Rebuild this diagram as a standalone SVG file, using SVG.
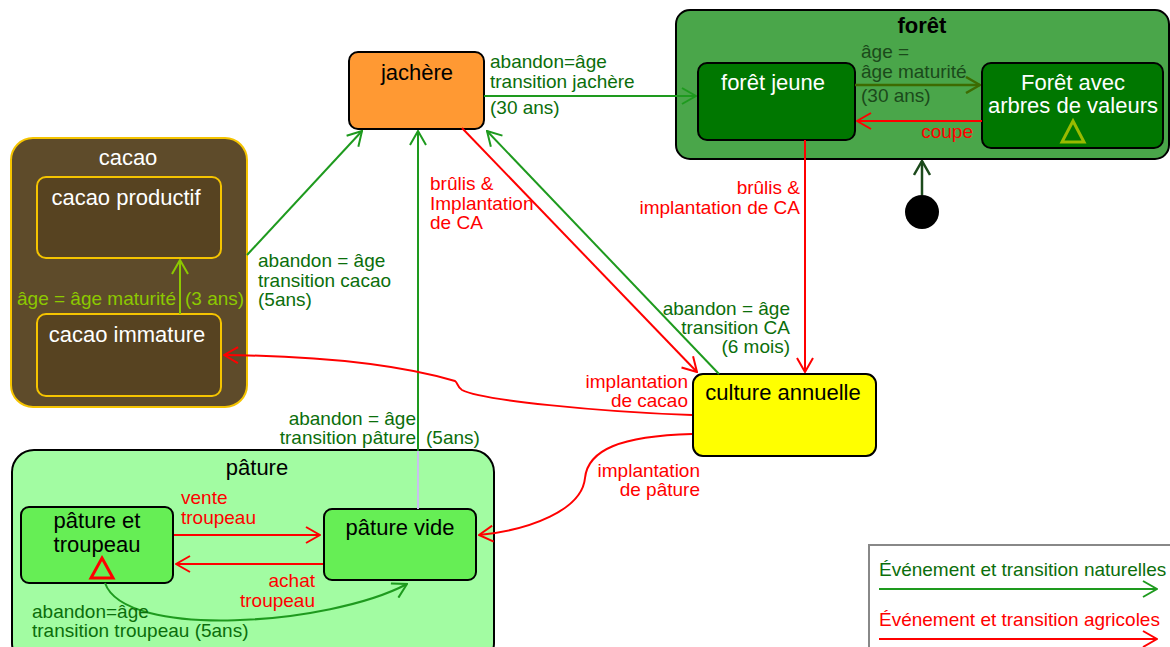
<svg xmlns="http://www.w3.org/2000/svg" width="1170" height="647" viewBox="0 0 1170 647">
<style>
text{font-family:"Liberation Sans",Arial,sans-serif}
.n{font-size:22px;text-anchor:middle}
.l{font-size:19px}
.w{fill:#ffffff}
.k{fill:#000000}
.lg{fill:#0b6e0b}
.lr{fill:#ff0000}
.lf{fill:#1b4a1b}
.ly{fill:#8cc800}
.e{text-anchor:end}
.cg{stroke:#1e9a1e;stroke-width:2;fill:none}
.cr{stroke:#ff0000;stroke-width:2;fill:none}
.co{stroke:#3d6b00;stroke-width:2.5;fill:none}
.cd{stroke:#1c4a1c;stroke-width:2.5;fill:none}
.cy{stroke:#8cc800;stroke-width:2;fill:none}
</style>
<defs>
<marker id="ag" viewBox="0 0 16 18" refX="15" refY="9" markerWidth="16" markerHeight="18" markerUnits="userSpaceOnUse" orient="auto"><path d="M1,1 L15,9 L1,17" fill="none" stroke="#1e9a1e" stroke-width="2"/></marker>
<marker id="ar" viewBox="0 0 16 18" refX="15" refY="9" markerWidth="16" markerHeight="18" markerUnits="userSpaceOnUse" orient="auto"><path d="M1,1 L15,9 L1,17" fill="none" stroke="#ff0000" stroke-width="2"/></marker>
<marker id="ao" viewBox="0 0 16 18" refX="15" refY="9" markerWidth="16" markerHeight="18" markerUnits="userSpaceOnUse" orient="auto"><path d="M1,1 L15,9 L1,17" fill="none" stroke="#3d6b00" stroke-width="2.5"/></marker>
<marker id="ad" viewBox="0 0 16 18" refX="15" refY="9" markerWidth="16" markerHeight="18" markerUnits="userSpaceOnUse" orient="auto"><path d="M1,1 L15,9 L1,17" fill="none" stroke="#1c4a1c" stroke-width="2.5"/></marker>
<marker id="ay" viewBox="0 0 16 18" refX="15" refY="9" markerWidth="16" markerHeight="18" markerUnits="userSpaceOnUse" orient="auto"><path d="M1,1 L15,9 L1,17" fill="none" stroke="#8cc800" stroke-width="2"/></marker>
</defs>

<g id="cacao">
<rect x="11" y="138" width="236" height="269" rx="22" fill="#5e4b2a" stroke="#f5c400" stroke-width="2"/>
<text class="n w" x="128" y="165">cacao</text>
</g>
<g id="cacao-productif">
<rect x="37" y="177" width="184" height="81" rx="9" fill="#574321" stroke="#f5c400" stroke-width="2"/>
<text class="n w" x="126" y="205">cacao productif</text>
</g>
<g id="cacao-immature">
<rect x="37" y="314" width="184" height="82" rx="9" fill="#574321" stroke="#f5c400" stroke-width="2"/>
<text class="n w" x="127" y="342">cacao immature</text>
</g>

<g id="jachere">
<rect x="349" y="52" width="135" height="77" rx="9" fill="#ff9933" stroke="#000" stroke-width="2"/>
<text class="n k" x="417" y="80">jachère</text>
</g>

<g id="foret">
<rect x="676" y="10" width="493" height="149" rx="14" fill="#4aa64a" stroke="#000" stroke-width="2"/>
<text class="n k" x="922" y="33" font-weight="bold">forêt</text>
</g>
<g id="foret-jeune">
<rect x="698" y="63" width="157" height="77" rx="9" fill="#007700" stroke="#000" stroke-width="2"/>
<text class="n w" x="773" y="90">forêt jeune</text>
</g>
<g id="foret-valeurs">
<rect x="982" y="63" width="181" height="85" rx="9" fill="#007700" stroke="#000" stroke-width="2"/>
<text class="n w" x="1073" y="90">Forêt avec</text>
<text class="n w" x="1073" y="113">arbres de valeurs</text>
<polygon points="1073,121 1084,142 1062,142" fill="none" stroke="#99bb00" stroke-width="3"/>
</g>

<g id="initial">
<circle cx="922" cy="212" r="17" fill="#000"/>
</g>

<g id="culture-annuelle">
<rect x="693" y="374" width="183" height="82" rx="10" fill="#ffff00" stroke="#000" stroke-width="2"/>
<text class="n k" x="783" y="400">culture annuelle</text>
</g>

<g id="pature">
<rect x="12" y="450" width="482" height="215" rx="22" fill="#a2fca2" stroke="#000" stroke-width="2"/>
<text class="n k" x="257" y="475">pâture</text>
</g>
<g id="pature-troupeau">
<rect x="21" y="507" width="152" height="76" rx="8" fill="#66ee55" stroke="#000" stroke-width="2"/>
<text class="n k" x="97" y="528">pâture et</text>
<text class="n k" x="97" y="552">troupeau</text>
<polygon points="102,558 113,578 91,578" fill="none" stroke="#ff0000" stroke-width="3"/>
</g>
<g id="pature-vide">
<rect x="324" y="509" width="152" height="71" rx="8" fill="#66ee55" stroke="#000" stroke-width="2"/>
<text class="n k" x="400" y="535">pâture vide</text>
</g>

<g id="connectors">
<path class="cy" d="M180,314 L180,260" marker-end="url(#ay)"/>
<path class="cg" d="M247,255 L362,131" marker-end="url(#ag)"/>
<path class="cg" d="M484,96 L696,96" marker-end="url(#ag)"/>
<path class="co" d="M855,85 L980,85" marker-end="url(#ao)"/>
<path class="cr" d="M982,121 L857,121" marker-end="url(#ar)"/>
<path class="cd" d="M922,195 L922,161" marker-end="url(#ad)"/>
<path class="cr" d="M805,140 L805,372" marker-end="url(#ar)"/>
<path class="cr" d="M462,128 L697,372" marker-end="url(#ar)"/>
<path class="cg" d="M719,374 L487,131" marker-end="url(#ag)"/>
<path d="M418,509 L418,450" stroke="#c8c0f0" stroke-width="2" fill="none"/>
<path class="cg" d="M418,451 L418,131" marker-end="url(#ag)"/>
<path class="cr" d="M692,415 C600,412 480,400 462,390 C457,387 458,383 455,381 C400,365 320,356 224,355" marker-end="url(#ar)"/>
<path class="cr" d="M692,434 C620,436 588,450 585,478 C582,510 530,530 479,535" marker-end="url(#ar)"/>
<path class="cr" d="M174,535 L320,535" marker-end="url(#ar)"/>
<path class="cr" d="M323,564 L176,564" marker-end="url(#ar)"/>
<path class="cg" d="M105,583 C125,640 330,625 407,584" marker-end="url(#ag)"/>
</g>

<g id="labels">
<text class="l ly" x="17" y="305">âge = âge maturité</text>
<text class="l ly" x="185" y="305">(3 ans)</text>
<text class="l lg" x="258" y="267">abandon = âge</text>
<text class="l lg" x="258" y="287">transition cacao</text>
<text class="l lg" x="258" y="306">(5ans)</text>
<text class="l lg" x="490" y="68">abandon=âge</text>
<text class="l lg" x="490" y="88">transition jachère</text>
<text class="l lg" x="490" y="114">(30 ans)</text>
<text class="l lf" x="861" y="58">âge =</text>
<text class="l lf" x="861" y="78">âge maturité</text>
<text class="l lf" x="861" y="102">(30 ans)</text>
<text class="l lr e" x="973" y="138">coupe</text>
<text class="l lr e" x="800" y="194">brûlis &amp;</text>
<text class="l lr e" x="800" y="214">implantation de CA</text>
<text class="l lr" x="430" y="190">brûlis &amp;</text>
<text class="l lr" x="430" y="210">Implantation</text>
<text class="l lr" x="430" y="229">de CA</text>
<text class="l lg e" x="790" y="315">abandon = âge</text>
<text class="l lg e" x="790" y="334">transition CA</text>
<text class="l lg e" x="790" y="353">(6 mois)</text>
<text class="l lr e" x="688" y="388">implantation</text>
<text class="l lr e" x="688" y="407">de cacao</text>
<text class="l lg e" x="416" y="425">abandon = âge</text>
<text class="l lg e" x="416" y="444">transition pâture</text>
<text class="l lg" x="426" y="444">(5ans)</text>
<text class="l lr e" x="700" y="477">implantation</text>
<text class="l lr e" x="700" y="496">de pâture</text>
<text class="l lr" x="181" y="504">vente</text>
<text class="l lr" x="181" y="524">troupeau</text>
<text class="l lr e" x="315" y="587">achat</text>
<text class="l lr e" x="315" y="607">troupeau</text>
<text class="l lg" x="32" y="618">abandon=âge</text>
<text class="l lg" x="32" y="637">transition troupeau (5ans)</text>
</g>

<g id="legende">
<rect x="869" y="545" width="310" height="120" fill="#fff" stroke="#888" stroke-width="2"/>
<text class="l lg" x="879" y="576">Événement et transition naturelles</text>
<path class="cg" d="M879,589 L1157,589" marker-end="url(#ag)"/>
<text class="l lr" x="879" y="626">Événement et transition agricoles</text>
<path class="cr" d="M879,639 L1157,639" marker-end="url(#ar)"/>
</g>
</svg>
